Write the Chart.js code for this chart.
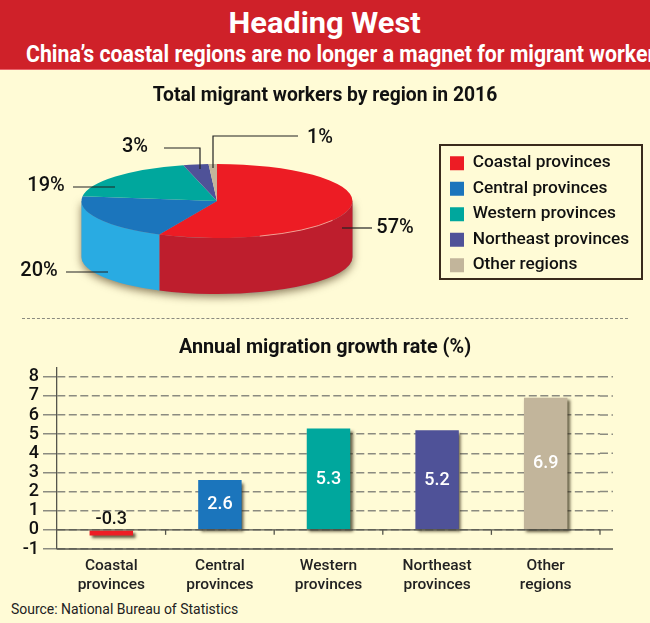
<!DOCTYPE html>
<html>
<head>
<meta charset="utf-8">
<script src="https://cdn.jsdelivr.net/npm/chart.js@4/dist/chart.umd.js"></script>
<style>
html,body{margin:0;padding:0;background:#fffbd6;}
#page{position:relative;width:650px;height:623px;overflow:hidden;background:#fffbd6;font-family:Roboto,sans-serif;}
#head{position:absolute;left:0;top:0;width:650px;height:69px;background:#cf2129;border-bottom:1px solid #e8636a;}
.t{position:absolute;left:0;width:650px;text-align:center;white-space:nowrap;color:#fff;font-weight:700;}
.t span{display:inline-block;transform-origin:center;}
#h1{top:5px;font-size:30px;line-height:36px;}
#h2{top:41px;font-size:23px;line-height:27px;}
#sep{position:absolute;left:22px;top:318px;width:606px;height:0;border-top:1.5px dashed #8b8b80;}
#src{position:absolute;left:11px;top:599px;font-size:15.5px;line-height:20px;color:#222;white-space:nowrap;}
#src span{display:inline-block;transform-origin:left center;}
canvas{position:absolute;left:0;top:0;}
</style>
</head>
<body>
<div id="page">
<div id="head"></div>
<div class="t" id="h1"><span>Heading West</span></div>
<div class="t" id="h2"><span>China’s coastal regions are no longer a magnet for migrant workers</span></div>
<div id="sep"></div>
<div id="src"><span>Source: National Bureau of Statistics</span></div>
<canvas id="pie" width="650" height="623"></canvas>
<canvas id="bar" width="650" height="623"></canvas>
</div>
<script>
const FONT = 'Roboto, sans-serif';
const regions = ['Coastal provinces','Central provinces','Western provinces','Northeast provinces','Other regions'];
const shares = [57,20,19,3,1];
const regionColors = ['#ed1c24','#1b75bc','#00a79d','#4f5298','#c2b59b'];
const sideColors = ['#be1e2d','#29abe2','#00a79d','#4f5298','#c2b59b'];
const barLabels = [['Coastal','provinces'],['Central','provinces'],['Western','provinces'],['Northeast','provinces'],['Other','regions']];
const growth = [-0.3,2.6,5.3,5.2,6.9];
const yTicks = [-1,0,1,2,3,4,5,6,7,8];

const ELLIPSE = {cx:217,cy:201,rx:135.5,ry:37,depth:56};
const LEGEND_BOX = {l:440,t:145,r:642,b:279};
const leaders = [
  [[342,228],[372,228]],
  [[66,272],[108,272]],
  [[73,187],[115,187]],
  [[164,148],[200,148],[200,169]],
  [[213,168],[213,136],[298,136]]
];
const labelAt = [[395,228],[39,271],[46,186],[135,147],[320,138]];

function fitWidth(sel,target){
  const el=document.querySelector(sel);
  el.style.transform='scaleX('+(target/el.offsetWidth)+')';
}
fitWidth('#h1 span',192);
fitWidth('#h2 span',640);
fitWidth('#src span',227);

const pie3d = {
  id:'pie3d',
  afterLayout(chart){
    const l = chart.legend, w = l.width, h = l.height;
    l.left = LEGEND_BOX.l + 1.8; l.right = l.left + w;
    l.top = LEGEND_BOX.t + 1.3; l.bottom = l.top + h;
  },
  beforeDatasetsDraw(chart){
    const ctx = chart.ctx, E = ELLIPSE, arcs = chart.getDatasetMeta(0).data, tau = Math.PI*2;
    ctx.save();
    ctx.shadowColor='rgba(60,40,10,0.6)';ctx.shadowBlur=9;ctx.shadowOffsetY=3;
    ctx.fillStyle='#999';
    ctx.beginPath();
    ctx.ellipse(E.cx,E.cy+E.depth,E.rx,E.ry,0,0,Math.PI);
    ctx.lineTo(E.cx-E.rx,E.cy);ctx.lineTo(E.cx+E.rx,E.cy);ctx.closePath();ctx.fill();
    ctx.restore();
    arcs.forEach((a,i)=>{
      [-tau,0,tau].forEach(k=>{
        const from=Math.max(a.startAngle+k,0),to=Math.min(a.endAngle+k,Math.PI);
        if(to<=from) return;
        ctx.beginPath();
        ctx.ellipse(E.cx,E.cy,E.rx,E.ry,0,from,to);
        ctx.ellipse(E.cx,E.cy+E.depth,E.rx,E.ry,0,to,from,true);
        ctx.closePath();
        ctx.fillStyle=sideColors[i];
        ctx.fill();
      });
    });
    const a0=arcs[0], m=a0.outerRadius||1;
    ctx.save();
    ctx.translate(E.cx,E.cy);
    ctx.scale(E.rx/m,E.ry/m);
    ctx.translate(-a0.x,-a0.y);
  },
  afterDatasetsDraw(chart){
    const ctx=chart.ctx,E=ELLIPSE;
    ctx.restore();
    ctx.save();
    ctx.strokeStyle='rgba(255,190,170,0.75)';ctx.lineWidth=1;
    ctx.beginPath();ctx.ellipse(E.cx,E.cy,E.rx,E.ry,0,0.55,1.25);ctx.stroke();
    ctx.restore();
    ctx.save();
    ctx.strokeStyle='#222';ctx.lineWidth=1.2;
    leaders.forEach(p=>{
      ctx.beginPath();
      p.forEach((q,i)=>i?ctx.lineTo(q[0],q[1]):ctx.moveTo(q[0],q[1]));
      ctx.stroke();
    });
    ctx.fillStyle='#111';ctx.font='500 20px '+FONT;ctx.textAlign='center';ctx.textBaseline='middle';
    shares.forEach((v,i)=>ctx.fillText(v+'%',labelAt[i][0],labelAt[i][1]));
    const B=LEGEND_BOX;
    ctx.strokeStyle='#3a2a1c';ctx.lineWidth=2;
    ctx.strokeRect(B.l,B.t,B.r-B.l,B.b-B.t);
    ctx.restore();
  }
};

new Chart(document.getElementById('pie'),{
  type:'pie',
  data:{labels:regions,datasets:[{data:shares,backgroundColor:regionColors,borderWidth:0}]},
  options:{
    responsive:false,animation:false,
    layout:{padding:{bottom:300}},
    plugins:{
      title:{display:true,text:'Total migrant workers by region in 2016',color:'#111',
        font:{family:FONT,size:19.3,weight:'700'},padding:{top:85,bottom:8}},
      legend:{position:'right',align:'start',labels:{boxWidth:14,boxHeight:14,color:'#111',padding:8.2,
        font:{family:FONT,size:17.3,weight:'500'}}},
      tooltip:{enabled:false}
    }
  },
  plugins:[pie3d]
});

const barDecor = {
  id:'barDecor',
  afterLayout(chart){
    chart.titleBlock.left=0;chart.titleBlock.right=chart.width;
  },
  beforeDatasetsDraw(chart){
    const ctx=chart.ctx;
    ctx.save();
    ctx.shadowColor='rgba(50,40,20,0.75)';ctx.shadowBlur=3;ctx.shadowOffsetX=2.5;ctx.shadowOffsetY=2.5;
  },
  afterDatasetsDraw(chart){
    const ctx=chart.ctx,y=chart.scales.y,x=chart.scales.x,A=chart.chartArea,ext=13;
    ctx.restore();
    ctx.save();
    ctx.strokeStyle='#8b8b80';ctx.lineWidth=1.5;ctx.setLineDash([8,3.5]);
    yTicks.filter(v=>v>0).forEach(v=>{
      const p=y.getPixelForValue(v);
      ctx.beginPath();ctx.moveTo(A.right,p);ctx.lineTo(A.right+ext,p);ctx.stroke();
    });
    ctx.setLineDash([]);
    ctx.strokeStyle='#55554c';ctx.lineWidth=1.3;
    [0,-1].forEach(v=>{
      const p=y.getPixelForValue(v);
      ctx.beginPath();ctx.moveTo(A.left,p);ctx.lineTo(A.right+ext,p);ctx.stroke();
    });
    const z=y.getPixelForValue(0);
    for(let i=0;i<growth.length;i++){
      const p=x.getPixelForValue(i)+(x.getPixelForValue(1)-x.getPixelForValue(0))/2;
      ctx.beginPath();ctx.moveTo(p,z);ctx.lineTo(p,z+5);ctx.stroke();
    }
    ctx.font='500 18px '+FONT;ctx.textAlign='center';ctx.textBaseline='middle';
    growth.forEach((v,i)=>{
      const px=x.getPixelForValue(i);
      if(v<0){ctx.fillStyle='#111';ctx.fillText(v.toFixed(1),px,z-10);}
      else{ctx.fillStyle='#fff';ctx.fillText(v.toFixed(1),px,y.getPixelForValue(v/2));}
    });
    ctx.restore();
  }
};

new Chart(document.getElementById('bar'),{
  type:'bar',
  data:{labels:barLabels,datasets:[{data:growth,backgroundColor:regionColors,borderWidth:0,barPercentage:0.4,categoryPercentage:1}]},
  options:{
    responsive:false,animation:false,
    layout:{padding:{right:50}},
    plugins:{
      legend:{display:false},tooltip:{enabled:false},
      title:{display:true,text:'Annual migration growth rate (%)',color:'#111',
        font:{family:FONT,size:19.8,weight:'700'},padding:{top:336,bottom:8.2}}
    },
    scales:{
      y:{min:-1,max:8.46,
        afterFit(s){s.width=57;},
        afterBuildTicks(s){s.ticks=yTicks.map(v=>({value:v}));},
        ticks:{autoSkip:false,color:'#111',padding:4,font:{family:FONT,size:18,weight:'500'}},
        grid:{color:'#8b8b80',lineWidth:1.5,tickLength:14,drawTicks:true,tickColor:'#8b8b80'},
        border:{color:'#55554c',width:1.3,dash:[8,3.5]}
      },
      x:{
        afterFit(s){s.height=74;},
        grid:{display:false},
        border:{display:false},
        ticks:{color:'#222',padding:0,maxRotation:0,font:{family:FONT,size:15.5,weight:'500',lineHeight:1.22}}
      }
    }
  },
  plugins:[barDecor]
});
</script>
</body>
</html>
